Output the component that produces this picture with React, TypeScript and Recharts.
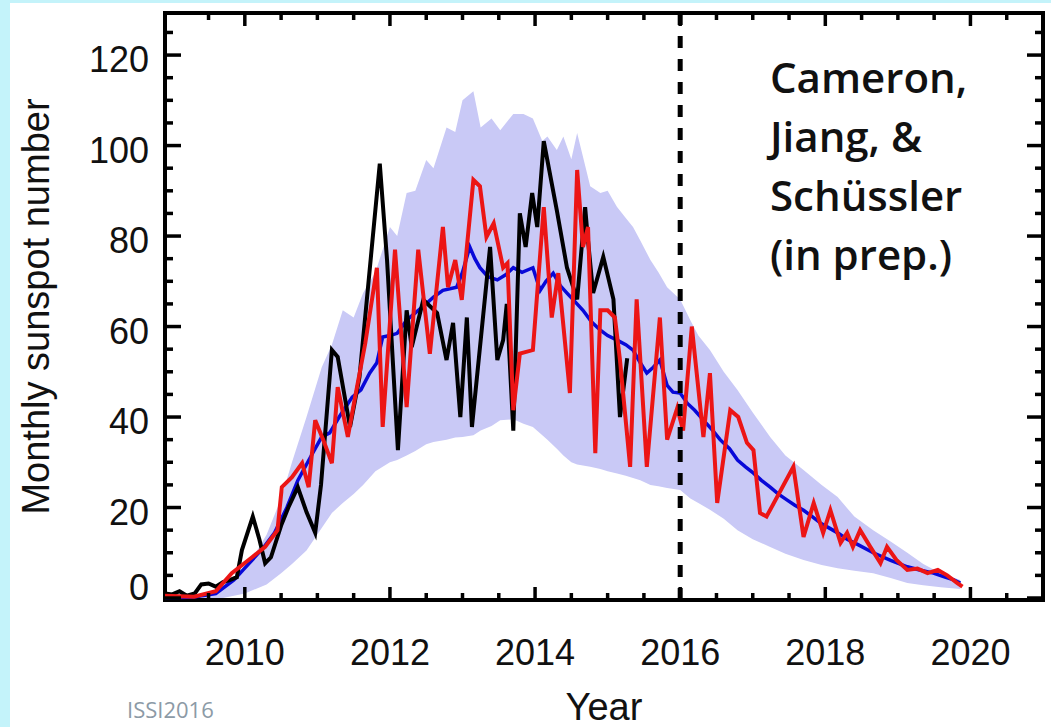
import { Area, ComposedChart, Label, Line, ReferenceArea, ReferenceLine, XAxis, YAxis } from 'recharts'

// plot frame in page pixels (the chart fills the 1051x727 page)
const W = 1051
const H = 727
const PLOT = { left: 165, right: 1043, top: 13, bottom: 600 }
const X_DOMAIN: [number, number] = [2008.9, 2021]
const Y_DOMAIN: [number, number] = [-0.44, 129.3]

const xTicks = [
  2009.5, 2010, 2010.5, 2011, 2011.5, 2012, 2012.5, 2013, 2013.5, 2014, 2014.5, 2015, 2015.5,
  2016, 2016.5, 2017, 2017.5, 2018, 2018.5, 2019, 2019.5, 2020, 2020.5,
]
const yTicks = [0, 5, 10, 15, 20, 25, 30, 35, 40, 45, 50, 55, 60, 65, 70, 75, 80, 85, 90, 95, 100, 105, 110, 115, 120, 125]

// shaded range of the prediction
const bandYears = [
  2009.4, 2009.7, 2010.0, 2010.3, 2010.5, 2010.65, 2010.85, 2011.06, 2011.2, 2011.35, 2011.5, 2011.63,
  2011.8, 2012.0, 2012.1, 2012.23, 2012.35, 2012.5, 2012.6, 2012.78, 2012.9, 2013.0, 2013.15, 2013.25,
  2013.4, 2013.52, 2013.7, 2013.84, 2013.97, 2014.1, 2014.17, 2014.3, 2014.39, 2014.5, 2014.58, 2014.76,
  2014.9, 2015.0, 2015.13, 2015.25, 2015.35, 2015.45, 2015.59, 2015.7, 2015.82, 2016.0, 2016.14, 2016.25,
  2016.41, 2016.6, 2016.79, 2017.0, 2017.24, 2017.45, 2017.7, 2017.95, 2018.17, 2018.4, 2018.66, 2018.9,
  2019.13, 2019.35, 2019.59, 2019.86,
]
const bandHigh = [
  0, 2, 6, 14, 22, 30, 40, 51, 56, 63.6, 62, 67.4,
  72, 82, 80, 89.5, 90, 96.8, 95, 104, 103, 110, 112, 104,
  106, 103.4, 107, 107, 106, 101, 102, 99, 102, 97, 102.8, 91,
  89.5, 90, 86.4, 84, 82, 79, 74.7, 72, 68.7, 66, 61.4, 58,
  54.8, 50, 46, 41, 35.6, 31.5, 28.3, 25, 22.3, 18, 15, 12.5,
  10, 7.5, 5.5, 4,
]
const bandLow = [
  0, 0, 1, 3, 5.5, 7.5, 10.5, 15.5, 18.8, 21, 23, 25,
  28, 30, 30.5, 31.5, 32.5, 34, 34.5, 35, 35.5, 35.6, 36, 37,
  38, 39.3, 39.5, 38.5, 37.8, 36, 35, 33, 31.5, 30, 29.5, 29,
  28.5, 28, 27.5, 27, 26.5, 26, 25, 24.7, 24.3, 23.9, 22, 21,
  19.5, 17.5, 15, 13, 11.3, 9.8, 8.4, 7.3, 6.6, 6, 5.5, 4.4,
  3.3, 2.8, 2.4, 2,
]

// blue: mean prediction
const meanYears = [
  2008.9, 2009.3, 2009.6, 2009.85, 2010.05, 2010.25, 2010.41, 2010.58, 2010.73, 2010.9, 2011.06, 2011.17,
  2011.3, 2011.48, 2011.6, 2011.72, 2011.82, 2011.9, 2012.0, 2012.1, 2012.23, 2012.35, 2012.51, 2012.6,
  2012.73, 2012.92, 2013.0, 2013.1, 2013.17, 2013.24, 2013.35, 2013.48, 2013.6, 2013.7, 2013.82, 2013.97,
  2014.07, 2014.15, 2014.25, 2014.35, 2014.44, 2014.55, 2014.66, 2014.78, 2014.9, 2015.0, 2015.13, 2015.25,
  2015.35, 2015.45, 2015.54, 2015.63, 2015.72, 2015.82, 2015.9, 2016.0, 2016.1, 2016.2, 2016.32, 2016.45,
  2016.55, 2016.68, 2016.79, 2016.9, 2017.01, 2017.12, 2017.24, 2017.35, 2017.47, 2017.58, 2017.7, 2017.82,
  2017.93, 2018.05, 2018.17, 2018.3, 2018.45, 2018.66, 2018.9, 2019.13, 2019.3, 2019.49, 2019.65, 2019.77,
  2019.86,
]
const meanValues = [
  0, 0.2, 1, 4, 7.5, 11, 14.4, 20, 26, 31, 35.6, 36.5,
  40, 44.4, 46, 49.7, 52, 57.7, 58, 58.5, 61.4, 63, 65.2, 66.5,
  68, 68.7, 72, 77.6, 75, 73, 71, 70.3, 71.5, 73, 72, 73,
  68, 70, 71.8, 69, 67.4, 65.5, 63.6, 61, 59.2, 58, 57, 56,
  54.8, 52, 49.7, 51, 52.6, 47, 45.5, 45.3, 43, 41.5, 39.3, 37,
  35, 33, 30.5, 29, 27.6, 26, 24.5, 23, 21.7, 20.5, 19.4, 18,
  16.6, 15.5, 14.4, 13, 11.8, 10, 8.3, 6.9, 6.2, 5.5, 4.6, 4,
  3.3,
]

// black: observed monthly sunspot number
const obsYears = [
  2008.9, 2009.0, 2009.1, 2009.2, 2009.31, 2009.4, 2009.5, 2009.6, 2009.7, 2009.8, 2009.89, 2009.96,
  2010.11, 2010.2, 2010.28, 2010.36, 2010.5, 2010.6, 2010.73, 2010.85, 2010.97, 2011.05, 2011.2, 2011.28,
  2011.45, 2011.58, 2011.86, 2011.96, 2012.11, 2012.23, 2012.3, 2012.46, 2012.65, 2012.78, 2012.87, 2012.97,
  2013.06, 2013.13, 2013.38, 2013.48, 2013.56, 2013.61, 2013.7, 2013.79, 2013.87, 2013.96, 2014.03, 2014.12,
  2014.3, 2014.44, 2014.58, 2014.69, 2014.73, 2014.8, 2014.94, 2015.08, 2015.17, 2015.27,
]
const obsValues = [
  1, 0.8, 1.5, 0.5, 1, 3, 3.2, 2.5, 3.5, 4, 4.6, 10.6,
  18, 13, 7.7, 9, 16, 20, 24.5, 19, 14.4, 25, 54.8, 53.3,
  37.8, 48.8, 96, 74.7, 32.7, 63.6, 55.5, 65.9, 63, 52.6, 60.8, 40,
  62, 37.8, 77.6, 52.6, 57, 65, 37, 85, 77.6, 89.5, 82, 101,
  85.7, 73, 66, 86.4, 79, 67.4, 75.4, 66, 40, 53,
]

// red: simulated monthly sunspot number
const simYears = [
  2008.9, 2009.3, 2009.6, 2009.82, 2010.1, 2010.28, 2010.45, 2010.51, 2010.65, 2010.79, 2010.88, 2010.97,
  2011.08, 2011.2, 2011.28, 2011.42, 2011.52, 2011.66, 2011.82, 2011.9, 2012.07, 2012.23, 2012.39, 2012.55,
  2012.73, 2012.8, 2012.9, 2012.99, 2013.15, 2013.24, 2013.33, 2013.43, 2013.56, 2013.62, 2013.7, 2013.79,
  2013.97, 2014.12, 2014.23, 2014.32, 2014.48, 2014.58, 2014.66, 2014.73, 2014.83, 2014.9, 2015.0, 2015.1,
  2015.17, 2015.31, 2015.4, 2015.54, 2015.72, 2015.82, 2015.96, 2016.04, 2016.16, 2016.32, 2016.41, 2016.51,
  2016.69, 2016.8, 2016.92, 2017.01, 2017.1, 2017.19, 2017.56, 2017.7, 2017.84, 2017.97, 2018.07, 2018.21,
  2018.3, 2018.38, 2018.48, 2018.62, 2018.76, 2018.85, 2018.98, 2019.13, 2019.27, 2019.41, 2019.55, 2019.68,
  2019.82, 2019.89,
]
const simValues = [
  0.5, 0.3, 1.5, 5.5, 9, 11.3, 15, 24.5, 26.7, 29.8, 24.5, 39.3,
  35, 29.8, 46.6, 35.6, 44.4, 56.3, 73, 37.8, 77, 42.2, 77, 54,
  82, 68.7, 74.7, 65.9, 92.4, 91, 79.8, 82.8, 73, 74, 41.5, 54,
  54.8, 86.4, 62, 71.8, 45.3, 94.6, 77.6, 82, 32, 63.6, 63.6, 62,
  52.6, 29, 66, 29, 62, 35, 42, 37, 60, 35.6, 49.7, 21,
  41.5, 40, 34.3, 32.7, 18.8, 18, 29, 13.5, 21, 14.4, 19.4, 12.2,
  14.4, 11.3, 15, 11.3, 7.7, 11.3, 8.4, 6.2, 6.5, 5.5, 6.2, 5,
  3.3, 2.5,
]

const bandData = bandYears.map((x, i) => ({ x, range: [bandLow[i], bandHigh[i]] }))
const meanData = meanYears.map((x, i) => ({ x, v: meanValues[i] }))
const obsData = obsYears.map((x, i) => ({ x, v: obsValues[i] }))
const simData = simYears.map((x, i) => ({ x, v: simValues[i] }))

const FONT = '"Liberation Sans", Arial, sans-serif'
const TICK_W = 3.5

function XTick({ x, payload }: any) {
  const v = payload.value as number
  const major = v % 2 === 0
  const len = major ? 13 : 7
  return (
    <g>
      <line x1={x} x2={x} y1={PLOT.bottom} y2={PLOT.bottom - len} stroke="#000" strokeWidth={TICK_W} />
      <line x1={x} x2={x} y1={PLOT.top} y2={PLOT.top + len} stroke="#000" strokeWidth={TICK_W} />
      {major && (
        <text x={x} y={665} textAnchor="middle" fontSize={36} fontFamily={FONT} fill="#111">
          {v}
        </text>
      )}
    </g>
  )
}

function YTick({ y, payload }: any) {
  const v = payload.value as number
  const major = v % 20 === 0
  const len = major ? 16 : 8
  return (
    <g>
      <line x1={PLOT.left} x2={PLOT.left + len} y1={y} y2={y} stroke="#000" strokeWidth={TICK_W} />
      <line x1={PLOT.right} x2={PLOT.right - len} y1={y} y2={y} stroke="#000" strokeWidth={TICK_W} />
      {major && (
        <text x={149} y={v === 0 ? y + 2 : y + 17} textAnchor="end" fontSize={36} fontFamily={FONT} fill="#111">
          {v}
        </text>
      )}
    </g>
  )
}

const noteLines = ['Cameron,', 'Jiang, &', 'Schüssler', '(in prep.)']

export default function App() {
  return (
    <div style={{ position: 'absolute', left: 0, top: 0, width: W, height: H, background: '#c4f3fa', overflow: 'hidden' }}>
      <div style={{ position: 'absolute', left: 10, top: 3, width: W - 10, height: H - 3, background: '#fff' }} />
      <div style={{ position: 'absolute', left: 0, top: 0 }}>
        <ComposedChart
          width={W}
          height={H}
          margin={{ top: PLOT.top, right: W - PLOT.right, bottom: 0, left: 0 }}
        >
          <XAxis
            dataKey="x"
            type="number"
            domain={X_DOMAIN}
            allowDataOverflow
            ticks={xTicks}
            interval={0}
            tick={<XTick />}
            tickLine={false}
            axisLine={false}
            tickSize={0}
            tickMargin={0}
            height={H - PLOT.bottom}
          >
            <Label value="Year" position="insideBottom" offset={7} fontSize={38} fontFamily={FONT} fill="#111" />
          </XAxis>
          <YAxis
            type="number"
            domain={Y_DOMAIN}
            allowDataOverflow
            ticks={yTicks}
            interval={0}
            tick={<YTick />}
            tickLine={false}
            axisLine={false}
            tickSize={0}
            tickMargin={0}
            width={PLOT.left}
          >
            <Label
              value="Monthly sunspot number"
              angle={-90}
              position="insideLeft"
              offset={36}
              fontSize={38}
              fontFamily={FONT}
              fill="#111"
              style={{ textAnchor: 'middle' }}
            />
          </YAxis>
          <Area
            data={bandData}
            dataKey="range"
            type="linear"
            stroke="none"
            fill="#c9c9f6"
            fillOpacity={1}
            isAnimationActive={false}
          />
          <Line data={meanData} dataKey="v" type="linear" stroke="#0808d8" strokeWidth={3.5} dot={false} isAnimationActive={false} />
          <Line data={obsData} dataKey="v" type="linear" stroke="#000" strokeWidth={4} dot={false} isAnimationActive={false} />
          <Line data={simData} dataKey="v" type="linear" stroke="#ec1515" strokeWidth={4} dot={false} isAnimationActive={false} />
          <ReferenceLine x={2016} stroke="#000" strokeWidth={5} strokeDasharray="12 11" />
          <ReferenceArea x1={X_DOMAIN[0]} x2={X_DOMAIN[1]} y1={Y_DOMAIN[0]} y2={Y_DOMAIN[1]} fill="none" stroke="#000" strokeWidth={4} />
        </ComposedChart>
      </div>
      <svg width={W} height={H} style={{ position: 'absolute', left: 0, top: 0, pointerEvents: 'none' }}>
        {noteLines.map((t, i) => (
          <text
            key={t}
            x={770}
            y={93 + i * 59}
            fontSize={42}
            fontWeight={600}
            fontFamily='"Open Sans", sans-serif'
            fill="#111"
          >
            {t}
          </text>
        ))}
        <text x={127} y={718} fontSize={22} fontFamily='"Open Sans", sans-serif' fill="#8c9aa6">
          ISSI2016
        </text>
      </svg>
    </div>
  )
}
